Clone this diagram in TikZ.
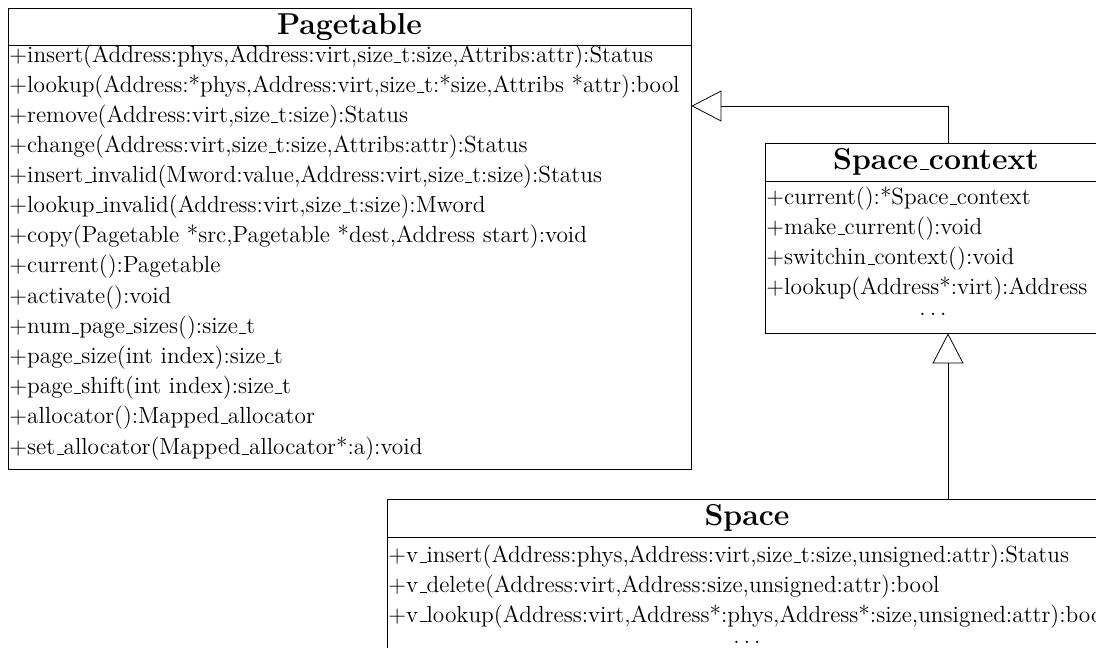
\documentclass[tikz,border=0pt]{standalone}
\usetikzlibrary{arrows.meta}

\DeclareRobustCommand{\_}{\leavevmode\kern.06em\vbox{\hrule width.3em}}

\tikzset{
  classname/.style={draw, inner sep=0pt, font=\fontsize{15.4}{18}\selectfont\bfseries},
  classbody/.style={draw, inner sep=0pt},
  op/.style={anchor=base west, inner sep=0pt, font=\fontsize{11.9}{14}\selectfont},
  more/.style={anchor=base, inner sep=0pt, font=\fontsize{11.9}{14}\selectfont},
  inherits/.style={-{Triangle[open, length=15.3pt, width=15.8pt]}}
}

\begin{document}
\begin{tikzpicture}[x=0.51pt, y=-0.51pt]
  \useasboundingbox (0,0) rectangle (1096,648);
  \clip (0,0) rectangle (1096,648);

  \node[classname, minimum width=348.3pt, minimum height=18.9pt] (pagetable) at (349.5,27) {Pagetable};
  \node[classbody, minimum width=348.3pt, minimum height=216.2pt] (pagetable-ops) at (349.5,257) {};

  \node[op] (pt1)  at (9, 63) {+insert(Address:phys,Address:virt,size\_t:size,Attribs:attr):Status};
  \node[op] (pt2)  at (9, 93) {+lookup(Address:*phys,Address:virt,size\_t:*size,Attribs *attr):bool};
  \node[op] (pt3)  at (9,123) {+remove(Address:virt,size\_t:size):Status};
  \node[op] (pt4)  at (9,153) {+change(Address:virt,size\_t:size,Attribs:attr):Status};
  \node[op] (pt5)  at (9,183) {+insert\_invalid(Mword:value,Address:virt,size\_t:size):Status};
  \node[op] (pt6)  at (9,213) {+lookup\_invalid(Address:virt,size\_t:size):Mword};
  \node[op] (pt7)  at (9,243) {+copy(Pagetable *src,Pagetable *dest,Address start):void};
  \node[op] (pt8)  at (9,273) {+current():Pagetable};
  \node[op] (pt9)  at (9,304) {+activate():void};
  \node[op] (pt10) at (9,334) {+num\_page\_sizes():size\_t};
  \node[op] (pt11) at (9,364) {+page\_size(int index):size\_t};
  \node[op] (pt12) at (9,394) {+page\_shift(int index):size\_t};
  \node[op] (pt13) at (9,424) {+allocator():Mapped\_allocator};
  \node[op] (pt14) at (9,455) {+set\_allocator(Mapped\_allocator*:a):void};

  \node[classname, minimum width=174.4pt, minimum height=19.4pt] (spacectx) at (936,162) {Space\_context};
  \node[classbody, minimum width=174.4pt, minimum height=77.5pt] (spacectx-ops) at (936,257) {};

  \node[op] (sc1) at (766,205) {+current():*Space\_context};
  \node[op] (sc2) at (766,235) {+make\_current():void};
  \node[op] (sc3) at (766,265) {+switchin\_context():void};
  \node[op] (sc4) at (766,295) {+lookup(Address*:virt):Address};
  \node[more] (sc5) at (933,316) {$\ldots$};

  \node[classname, minimum width=367.2pt, minimum height=19.4pt] (space) at (747,518) {Space};
  \node[classbody, minimum width=367.2pt, minimum height=67.8pt] (space-ops) at (747,603.5) {};

  \node[op] (sp1) at (388,563) {+v\_insert(Address:phys,Address:virt,size\_t:size,unsigned:attr):Status};
  \node[op] (sp2) at (388,593) {+v\_delete(Address:virt,Address:size,unsigned:attr):bool};
  \node[op] (sp3) at (388,622) {+v\_lookup(Address:virt,Address*:phys,Address*:size,unsigned:attr):bool};
  \node[more] (sp4) at (747,643) {$\ldots$};

  \coordinate (link) at (948,106);

  \draw[inherits] (space.north -| link) -- (spacectx-ops.south -| link);
  \draw[inherits] (spacectx.north -| link) -- (link) -- (pagetable-ops.east |- link);
\end{tikzpicture}
\end{document}
